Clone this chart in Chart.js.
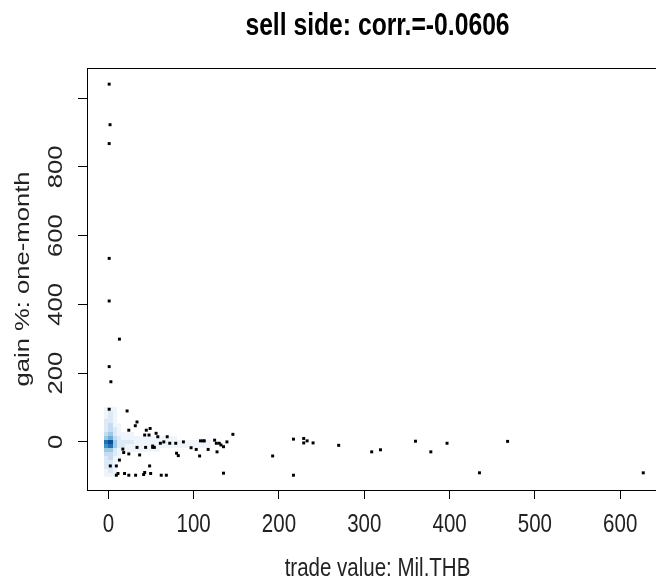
<!DOCTYPE html>
<html>
<head>
<meta charset="utf-8">
<script src="https://cdn.jsdelivr.net/npm/chart.js@4/dist/chart.umd.min.js"></script>
<style>
  html, body { margin: 0; padding: 0; background: #fff; overflow: hidden; }
  canvas { display: block; }
</style>
</head>
<body>
<canvas id="myChart" width="672" height="582"></canvas>
<script>
// outlying trades (black dots)
const tradeValue = [1, 2, 1, 1, 1, 13, 1, 3, 1, 22,
  33.6, 31.6, 24, 44.5, 49, 42.6, 47.7, 56, 58, 69,
  61, 65, 72, 79, 88, 52,
  17, 18, 24, 33.6, 36.7, 43.7, 52, 54, 80, 82,
  13, 2.3, 9.4, 48.4,
  11.3, 9.4, 19, 24, 32, 41.4, 42.6, 49.6, 62, 68,
  97, 103, 107, 108, 111, 112.5, 117, 124.6, 126.6, 127.4, 130, 132, 135, 139, 146, 135, 192.6,
  217, 217, 229, 229, 233, 240, 270, 308.7, 319, 360, 378, 397, 435, 468, 627];
const gainPct = [1041, 923, 868, 534, 410, 299, 219, 175, 95, 90,
  58, 47, 34, 34, 39, 20, 20, 25, 15, 15,
  -4, 0, -4, -4, 0, -12,
  -21, -31, -35, -16, -38, -16, -16, -16, -33, -40,
  -53, -70, -70, -70,
  -92, -97, -92, -97, -97, -95, -89, -92, -97, -97,
  -17, -22, -41, 3, 3, 3, -22, 5, -4, -29, -4, -9, -14, 0, 22, -91, -41,
  8, -97, 10, -3, 3, -3, -10, -29, -23, 2, -29, -4, -90, 1.5, -90];

// smoothed density of the dense cloud near the origin
const densColEdges = [-5, 0, 5, 10, 15, 20, 30, 40, 60, 80, 100, 120, 145];
const densRowEdges = [102, 90, 78, 66, 54, 42, 30, 18, 6, -6, -18, -30, -42, -54, -66, -78, -90, -102];
const densLevels = [
  [1, 1, 1, 0, 0, 0, 0, 0, 0, 0, 0, 0],
  [1, 2, 1, 0, 0, 0, 0, 0, 0, 0, 0, 0],
  [1, 2, 1, 0, 0, 0, 0, 0, 0, 0, 0, 0],
  [2, 2, 1, 0, 0, 0, 0, 0, 0, 0, 0, 0],
  [2, 3, 1, 1, 0, 0, 0, 0, 0, 0, 0, 0],
  [2, 3, 2, 1, 0, 0, 0, 0, 0, 0, 0, 0],
  [3, 4, 2, 1, 1, 1, 0, 0, 0, 0, 0, 0],
  [4, 5, 3, 2, 1, 1, 1, 1, 1, 0, 0, 0],
  [7, 8, 4, 2, 2, 2, 1, 1, 1, 1, 1, 0],
  [6, 7, 4, 2, 2, 1, 1, 1, 1, 1, 1, 0],
  [4, 4, 2, 1, 1, 1, 1, 1, 0, 0, 0, 0],
  [3, 3, 2, 1, 0, 0, 0, 0, 0, 0, 0, 0],
  [2, 3, 1, 1, 0, 0, 0, 0, 0, 0, 0, 0],
  [2, 2, 1, 0, 0, 0, 0, 0, 0, 0, 0, 0],
  [2, 2, 1, 0, 0, 0, 0, 0, 0, 0, 0, 0],
  [1, 2, 1, 0, 0, 0, 0, 0, 0, 0, 0, 0],
  [1, 1, 1, 0, 0, 0, 0, 0, 0, 0, 0, 0]
];
const densPalette = ["", "#EFF5FB", "#DCE9F6", "#C6DBEF", "#9ECAE1", "#6BAED6", "#4292C6", "#2171B5", "#0B4F9C"];

const xTicks = [0, 100, 200, 300, 400, 500, 600];
const xTickLabels = ["0", "100", "200", "300", "400", "500", "600"];
const yTicks = [0, 200, 400, 600, 800, 1000];
const yTickLabels = ["0", "200", "400", "600", "800", ""];

const titleText = "sell side: corr.=-0.0606";
const xTitle = "trade value: Mil.THB";
const yTitle = "gain %: one-month";

const FONT = "'Liberation Sans', Arial, sans-serif";
const STRETCH = 1.25; // text in the reference is drawn a bit tall

const densityPlugin = {
  id: "density",
  beforeDatasetsDraw(chart) {
    const { ctx, chartArea, scales } = chart;
    ctx.save();
    ctx.beginPath();
    ctx.rect(chartArea.left, chartArea.top, chartArea.right - chartArea.left, chartArea.bottom - chartArea.top);
    ctx.clip();
    for (let i = 0; i < densLevels.length; i++) {
      const y0 = Math.round(scales.y.getPixelForValue(densRowEdges[i]));
      const y1 = Math.round(scales.y.getPixelForValue(densRowEdges[i + 1]));
      for (let j = 0; j < densLevels[i].length; j++) {
        const lv = densLevels[i][j];
        if (!lv) continue;
        const x0 = Math.round(scales.x.getPixelForValue(densColEdges[j]));
        const x1 = Math.round(scales.x.getPixelForValue(densColEdges[j + 1]));
        ctx.fillStyle = densPalette[lv];
        ctx.fillRect(x0, y0, x1 - x0, y1 - y0);
      }
    }
    ctx.restore();
  }
};

function tallText(ctx, text, x, y, angle) {
  ctx.save();
  ctx.translate(x, y);
  if (angle) {
    ctx.rotate(angle);
    ctx.scale(STRETCH, 1);
  } else {
    ctx.scale(1, STRETCH);
  }
  ctx.fillText(text, 0, 0);
  ctx.restore();
}

// plot box and all the text, placed like R's base graphics
const framePlugin = {
  id: "frame",
  afterDraw(chart) {
    const { ctx, chartArea, scales } = chart;
    const cx = (chartArea.left + chartArea.right) / 2;
    const cy = (chartArea.top + chartArea.bottom) / 2;
    ctx.save();
    ctx.strokeStyle = "#000";
    ctx.lineWidth = 1;
    ctx.strokeRect(Math.round(chartArea.left) + 0.5, Math.round(chartArea.top) + 0.5,
      Math.round(chartArea.right - chartArea.left), Math.round(chartArea.bottom - chartArea.top));

    ctx.textAlign = "center";
    ctx.textBaseline = "alphabetic";
    ctx.fillStyle = "#000";
    ctx.font = "bold 24.7px " + FONT;
    tallText(ctx, titleText, cx, 35);

    ctx.fillStyle = "#222";
    ctx.font = "20.5px " + FONT;
    scales.x.ticks.forEach(t => {
      const i = xTicks.indexOf(t.value);
      if (i < 0 || !xTickLabels[i]) return;
      tallText(ctx, xTickLabels[i], scales.x.getPixelForValue(t.value), 532);
    });
    scales.y.ticks.forEach(t => {
      const i = yTicks.indexOf(t.value);
      if (i < 0 || !yTickLabels[i]) return;
      tallText(ctx, yTickLabels[i], 62, scales.y.getPixelForValue(t.value), -Math.PI / 2);
    });
    tallText(ctx, xTitle, cx, 576);
    tallText(ctx, yTitle, 29, cy, -Math.PI / 2);
    ctx.restore();
  }
};

new Chart("myChart", {
  type: "scatter",
  data: {
    datasets: [{
      data: tradeValue.map((v, i) => ({ x: v, y: gainPct[i] })),
      pointStyle: "rect",
      pointRadius: 2.1,
      pointHoverRadius: 2.1,
      pointBorderWidth: 0,
      backgroundColor: "#000",
      borderColor: "#000"
    }]
  },
  options: {
    responsive: false,
    animation: false,
    events: [],
    layout: { padding: { left: 0, right: 4, top: 68, bottom: 0 } },
    plugins: {
      legend: { display: false },
      tooltip: { enabled: false },
      title: { display: false }
    },
    scales: {
      x: {
        type: "linear",
        min: -25,
        max: 656,
        afterFit(scale) { scale.height = 92; },
        afterBuildTicks(scale) { scale.ticks = xTicks.map(v => ({ value: v })); },
        ticks: { autoSkip: false, maxRotation: 0, callback: () => "" },
        grid: { drawOnChartArea: false, drawTicks: true, tickLength: 9, color: "#000", tickColor: "#000" },
        border: { display: false }
      },
      y: {
        type: "linear",
        min: -140,
        max: 1088,
        afterFit(scale) { scale.width = 87; },
        afterBuildTicks(scale) { scale.ticks = yTicks.map(v => ({ value: v })); },
        ticks: { autoSkip: false, callback: () => "" },
        grid: { drawOnChartArea: false, drawTicks: true, tickLength: 9, color: "#000", tickColor: "#000" },
        border: { display: false }
      }
    }
  },
  plugins: [densityPlugin, framePlugin]
});
</script>
</body>
</html>
